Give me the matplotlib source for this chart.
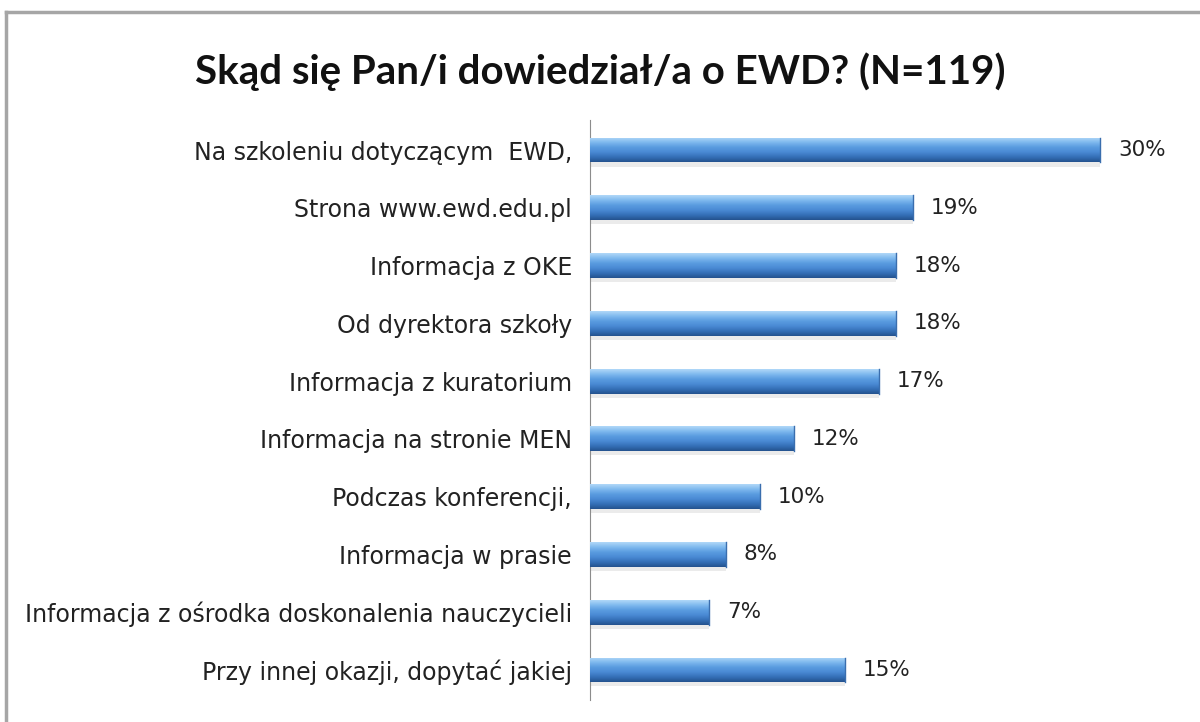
import numpy as np
import matplotlib.pyplot as plt
from matplotlib.colors import LinearSegmentedColormap
from matplotlib.lines import Line2D

# data
categories = [
    'Na szkoleniu dotyczącym  EWD,',
    'Strona www.ewd.edu.pl',
    'Informacja z OKE',
    'Od dyrektora szkoły',
    'Informacja z kuratorium',
    'Informacja na stronie MEN',
    'Podczas konferencji,',
    'Informacja w prasie',
    'Informacja z ośrodka doskonalenia nauczycieli',
    'Przy innej okazji, dopytać jakiej',
]
values = [30, 19, 18, 18, 17, 12, 10, 8, 7, 15]
value_labels = ['30%', '19%', '18%', '18%', '17%', '12%', '10%', '8%', '7%', '15%']
title = 'Skąd się Pan/i dowiedział/a o EWD? (N=119)'

plt.rcParams['font.family'] = ['DejaVu Sans']

fig = plt.figure(figsize=(12, 7.22), dpi=100)
ax = fig.add_axes([590 / 1200, 22 / 722, 595 / 1200, 580 / 722])

n = len(categories)
ypos = np.arange(n)[::-1]
h = 0.43

# cylinder-like gradient: dark bottom -> light top
cmap = LinearSegmentedColormap.from_list(
    'bar', ['#24538f', '#3570b8', '#4a8ad4', '#5a9ce0', '#7fb9ee', '#b0d8f8'])
grad = np.linspace(0, 1, 64).reshape(-1, 1)

# soft shadow under each bar
ax.barh(ypos - 0.07, values, height=h, color='#d4d4d4', alpha=0.45, zorder=1)
bars = ax.barh(ypos, values, height=h, color='#4a8ad4', zorder=2)
for b, v, y in zip(bars, values, ypos):
    im = ax.imshow(grad, extent=(0, v, y - h / 2, y + h / 2), origin='lower',
                   cmap=cmap, aspect='auto', zorder=3)
    im.set_clip_path(b)
    ax.plot([v, v], [y - h / 2, y + h / 2], color='#3a6eae', lw=1.0, zorder=4)

for v, y, lab in zip(values, ypos, value_labels):
    ax.text(v + 1.05, y, lab, va='center', ha='left', fontsize=15.5, color='#222222')

ax.set_xlim(0, 35)
ax.set_ylim(-0.52, n - 0.48)
ax.set_yticks(ypos)
ax.set_yticklabels(categories, fontsize=17, color='#222222')
ax.tick_params(axis='y', length=0, pad=13)
ax.set_xticks([])
for s in ['top', 'right', 'bottom']:
    ax.spines[s].set_visible(False)
ax.spines['left'].set_color('#8c8c8c')

fig.text(0.5, 1 - 72 / 722, title, ha='center', va='center',
         fontsize=29, fontweight='bold', color='#111111', family=['Lato', 'DejaVu Sans'])

# outer chart border (cropped on the right and bottom)
fig.add_artist(Line2D([6 / 1200, 1], [1 - 12 / 722, 1 - 12 / 722], color='#a6a6a6', lw=2.5))
fig.add_artist(Line2D([6 / 1200, 6 / 1200], [0, 1 - 12 / 722], color='#a6a6a6', lw=2.5))

plt.savefig('out.png', dpi=100)
